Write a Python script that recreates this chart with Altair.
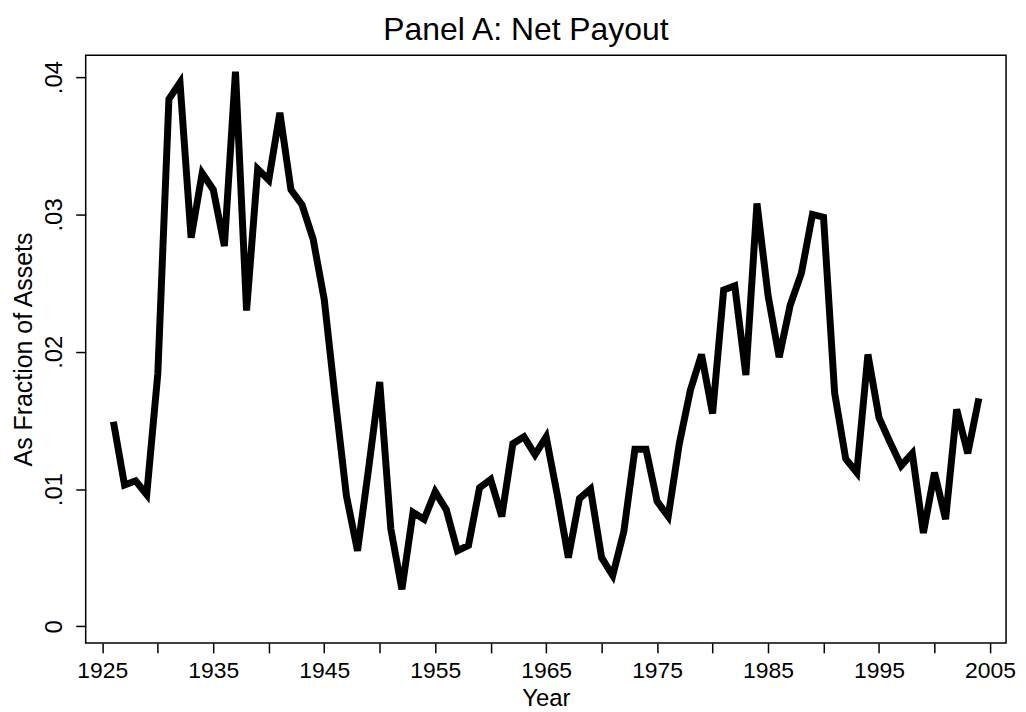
import altair as alt
import pandas as pd

years = list(range(1926, 2005))
net_payout = [
    0.0149, 0.0103, 0.0106, 0.0096, 0.0184, 0.0384, 0.0396, 0.0283, 0.0330, 0.0318,
    0.0277, 0.0404, 0.0230, 0.0333, 0.0325, 0.0374, 0.0318, 0.0307, 0.0282, 0.0238,
    0.0165, 0.0095, 0.0055, 0.0115, 0.0178, 0.0071, 0.0027, 0.0083, 0.0078, 0.0098,
    0.0085, 0.0055, 0.0059, 0.0101, 0.0107, 0.0080, 0.0133, 0.0138, 0.0125, 0.0138,
    0.0096, 0.0050, 0.0093, 0.0100, 0.0050, 0.0037, 0.0069, 0.0129, 0.0129, 0.0091,
    0.0080, 0.0133, 0.0172, 0.0198, 0.0155, 0.0245, 0.0248, 0.0183, 0.0308, 0.0241,
    0.0196, 0.0234, 0.0257, 0.0300, 0.0298, 0.0170, 0.0122, 0.0112, 0.0198, 0.0152,
    0.0134, 0.0117, 0.0126, 0.0068, 0.0112, 0.0078, 0.0158, 0.0126, 0.0166,
]
x_ticks = list(range(1925, 2010, 5))
y_ticks = [0, 0.01, 0.02, 0.03, 0.04]

df = pd.DataFrame({"Year": years, "Payout": net_payout})

FONT = "Liberation Sans, Arial, Helvetica, sans-serif"

chart = (
    alt.Chart(df)
    .mark_line(color="black", strokeWidth=7, strokeJoin="miter", strokeMiterLimit=4, strokeCap="butt")
    .encode(
        x=alt.X(
            "Year:Q",
            scale=alt.Scale(domain=[1923.5, 2006.45], nice=False, zero=False),
            axis=alt.Axis(
                values=x_ticks,
                labelExpr="(datum.value - 1925) % 10 == 0 ? format(datum.value, 'd') : ''",
                title="Year",
                grid=False,
                domain=False,
                tickColor="black",
                tickWidth=1.5,
                tickSize=10,
                labelFontSize=23,
                labelFont=FONT,
                labelColor="black",
                labelPadding=7,
                labelFlush=False,
                labelOverlap=False,
                titleFont=FONT,
                titleFontSize=24,
                titleFontWeight="normal",
                titleColor="black",
                titlePadding=4,
            ),
        ),
        y=alt.Y(
            "Payout:Q",
            scale=alt.Scale(domain=[-0.0012036, 0.041595], nice=False, zero=False),
            axis=alt.Axis(
                values=y_ticks,
                labelExpr="datum.value == 0 ? '0' : substring(format(datum.value, '.2f'), 1)",
                title="As Fraction of Assets",
                grid=False,
                domain=False,
                tickColor="black",
                tickWidth=1.5,
                tickSize=10,
                labelAngle=270,
                labelAlign="center",
                labelBaseline="alphabetic",
                labelFontSize=24,
                labelFont=FONT,
                labelColor="black",
                labelPadding=14,
                labelFlush=False,
                labelOverlap=False,
                titleFont=FONT,
                titleFontSize=25,
                titleFontWeight="normal",
                titleColor="black",
                titlePadding=6,
            ),
        ),
    )
    .properties(
        width=924,
        height=590,
        background="white",
        padding={"left": 78, "top": 46, "right": 12, "bottom": 68},
        autosize=alt.AutoSizeParams(type="none"),
        title=alt.TitleParams(
            text="Panel A: Net Payout",
            font=FONT,
            fontSize=32,
            fontWeight="normal",
            color="black",
            anchor="middle",
            offset=8,
            dx=-20,
        ),
    )
    .configure_view(stroke="black", strokeWidth=1.5, fill="white")
)

chart.save("out.html", embed_options={"renderer": "svg", "actions": False})
